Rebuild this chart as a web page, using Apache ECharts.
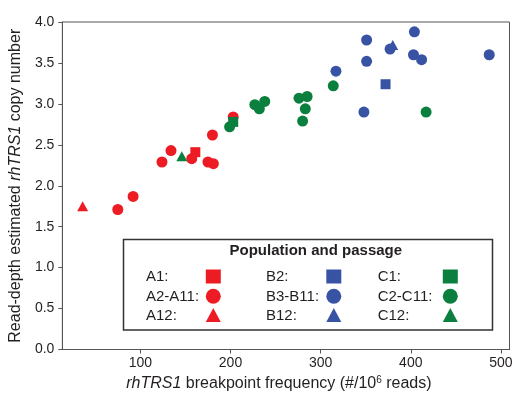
<!DOCTYPE html>
<html><head><meta charset="utf-8">
<script src="https://cdn.jsdelivr.net/npm/echarts@6/dist/echarts.min.js"></script>
<style>html,body{margin:0;padding:0;background:#fff}#c{width:523px;height:402px}</style>
</head><body><div id="c"></div>
<script>
// ---- data (x = breakpoint frequency, y = copy number) ----
const A1     = [[161, 2.41]];
const A2_A11 = [[75,1.71],[92,1.87],[124,2.29],[134,2.43],[157,2.33],[175,2.29],[181,2.27],[180,2.62],[203,2.84]];
const A12    = [[36, 1.75]];
const B2     = [[372, 3.24]];
const B12    = [[380, 3.72]];
const B3_B11 = [[351,3.78],[404,3.88],[377,3.67],[403,3.60],[412,3.54],[487,3.60],[351,3.52],[317,3.40],[348,2.90]];
const C1     = [[203, 2.78]];
const C2_C11 = [[199,2.72],[227,2.99],[232,2.94],[238,3.03],[276,3.07],[285,3.09],[283,2.94],[280,2.79],[314,3.22],[417,2.90]];
const C12    = [[146, 2.36]];
const xTickValues = [100, 200, 300, 400, 500];
const legendTitle = 'Population and passage';
const legendLabels = [['A1:','A2-A11:','A12:'],['B2:','B3-B11:','B12:'],['C1:','C2-C11:','C12:']];

const RED='#ed1c24', BLUE='#3953a4', GREEN='#0a7f3e', INK='#231f20', AX='#555555';
const FONT='"Liberation Sans", Arial, Helvetica, sans-serif';

function sc(name, data, symbol, color){
  const size = symbol==='circle' ? 11 : (symbol==='rect' ? 10 : [11,10]);
  return {type:'scatter', name, data, symbol, symbolSize:size,
    itemStyle:{color, opacity:1}, emphasis:{disabled:true}, silent:true};
}
const series = [
  sc('A1',A1,'rect',RED), sc('A2-A11',A2_A11,'circle',RED), sc('A12',A12,'triangle',RED),
  sc('B12',B12,'triangle',BLUE), sc('B2',B2,'rect',BLUE), sc('B3-B11',B3_B11,'circle',BLUE),
  sc('C2-C11',C2_C11,'circle',GREEN), sc('C1',C1,'rect',GREEN), sc('C12',C12,'triangle',GREEN)
];

// ---- legend box drawn as graphics ----
const colColors=[RED,BLUE,GREEN], rowSymbols=['rect','circle','triangle'];
const labelX=[146,266,377.7], symX=[213.3,333.8,450.3], rowY=[277,296.7,315.5];
const g=[{type:'rect', shape:{x:123.5,y:239.5,width:369,height:90.5}, style:{fill:'#fff',stroke:'#333',lineWidth:1.5}, z:10},
  {type:'text', x:315.8, y:251, style:{text:legendTitle, font:'bold 15px '+FONT, fill:INK, textAlign:'center', textVerticalAlign:'middle', align:'center', verticalAlign:'middle'}, z:11}];
for(let c=0;c<3;c++){
  for(let r=0;r<3;r++){
    g.push({type:'text', x:labelX[c], y:rowY[r], style:{text:legendLabels[c][r], font:'15px '+FONT, fill:INK, textAlign:'left', textVerticalAlign:'middle', align:'left', verticalAlign:'middle'}, z:11});
    const cx=symX[c], cy=rowY[r]-0.5, col=colColors[c];
    if(rowSymbols[r]==='rect') g.push({type:'rect', shape:{x:cx-7.5,y:cy-7,width:15,height:14}, style:{fill:col}, z:11});
    else if(rowSymbols[r]==='circle') g.push({type:'circle', shape:{cx,cy,r:7.5}, style:{fill:col}, z:11});
    else g.push({type:'polygon', shape:{points:[[cx,cy-7],[cx+7.5,cy+7],[cx-7.5,cy+7]]}, style:{fill:col}, z:11});
  }
}

const chart = echarts.init(document.getElementById('c'), null, {renderer:'canvas'});
chart.setOption({
  animation:false,
  backgroundColor:'#fff',
  textStyle:{fontFamily:FONT},
  grid:{left:62, right:13.5, top:22, bottom:52.5, show:true, borderColor:AX, borderWidth:1, backgroundColor:'transparent'},
  xAxis:{type:'value', min:13.5, max:509.5,
    name:'{i|rhTRS1} breakpoint frequency (#/10{s|6} reads)', nameLocation:'middle', nameGap:26,
    nameTextStyle:{fontSize:16, color:INK, fontFamily:FONT, padding:[0,14,0,0],
      rich:{i:{fontStyle:'italic', fontSize:16, color:INK, fontFamily:FONT},
            s:{fontSize:10, color:INK, fontFamily:FONT, verticalAlign:'top', lineHeight:10, padding:[0,0,6,0]}}},
    axisLine:{show:true, lineStyle:{color:AX, width:1}},
    axisTick:{show:true, length:4, inside:false, lineStyle:{color:AX}, customValues:xTickValues},
    axisLabel:{fontSize:14, color:INK, margin:7, customValues:xTickValues},
    splitLine:{show:false}},
  yAxis:{type:'value', min:0, max:4, interval:0.5,
    name:'Read-depth estimated {i|rhTRS1} copy number', nameLocation:'middle', nameGap:31,
    nameTextStyle:{fontSize:16, color:INK, fontFamily:FONT,
      rich:{i:{fontStyle:'italic', fontSize:16, color:INK, fontFamily:FONT}}},
    axisLine:{show:true, lineStyle:{color:AX, width:1}},
    axisTick:{show:true, length:4, inside:false, lineStyle:{color:AX}},
    axisLabel:{fontSize:14, color:INK, margin:8, formatter:v=>v.toFixed(1)},
    splitLine:{show:false}},
  series,
  graphic:g
});
</script></body></html>
